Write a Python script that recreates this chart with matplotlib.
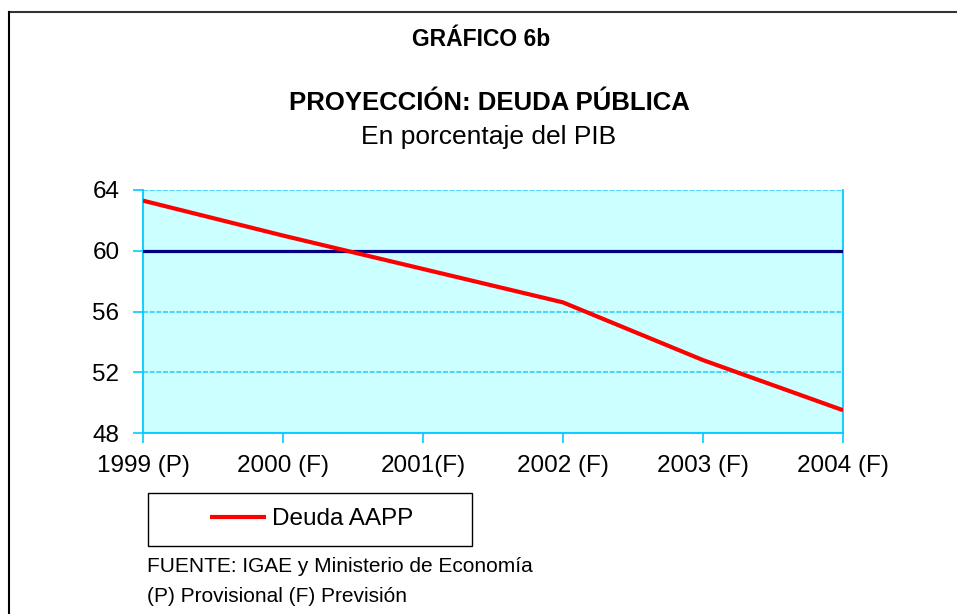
import matplotlib.pyplot as plt
from matplotlib.lines import Line2D
from matplotlib.patches import Rectangle

plt.rcParams['font.family'] = ['Liberation Sans', 'DejaVu Sans']

# data
years = ["1999 (P)", "2000 (F)", "2001(F)", "2002 (F)", "2003 (F)", "2004 (F)"]
deuda = [63.3, 61.0, 58.8, 56.6, 52.8, 49.5]
limite = [60, 60, 60, 60, 60, 60]
yticks = [48, 52, 56, 60, 64]

fig = plt.figure(figsize=(9.57, 6.14), dpi=100)
ax = fig.add_axes([143/957, 1 - 433/614, 700/957, 243/614])

x = range(len(years))
ax.set_facecolor("#CCFFFF")
ax.plot(x, limite, color="#000080", lw=2.3, zorder=3)
ax.plot(x, deuda, color="#FF0000", lw=3, label="Deuda AAPP", zorder=4,
        solid_capstyle="butt")

ax.set_xlim(0, len(years) - 1)
ax.set_ylim(48, 64)
ax.set_xticks(list(x))
ax.set_xticklabels(years, fontsize=17.5)
ax.set_yticks(yticks)
ax.set_yticklabels([str(v) for v in yticks], fontsize=17.5)
ax.grid(axis="y", color="#33CCFF", ls=(0, (3, 1)), lw=1.2)
ax.tick_params(axis="both", color="#00CCFF", length=7, width=1.2)
ax.tick_params(axis="x", pad=9)
ax.tick_params(axis="y", pad=10)
for side in ["left", "bottom", "right"]:
    ax.spines[side].set_color("#00CCFF")
    ax.spines[side].set_linewidth(1.3)
ax.spines["top"].set_visible(False)

# titles
fig.text(481/957, 1 - 40/614, "GRÁFICO 6b", ha="center", va="center",
         fontsize=16.5, fontweight="bold")
fig.text(489/957, 1 - 103/614, "PROYECCIÓN: DEUDA PÚBLICA", ha="center",
         va="center", fontsize=18.5, fontweight="bold")
fig.text(489/957, 1 - 137/614, "En porcentaje del PIB", ha="center",
         va="center", fontsize=19)

# legend box
fig.patches.append(Rectangle((148/957, 1 - 546/614), 324/957, 53/614,
                             transform=fig.transFigure, fill=False,
                             edgecolor="black", lw=1))
fig.legend(loc="center", bbox_to_anchor=(312/957, 1 - 519/614), frameon=False,
           fontsize=17.5, handlelength=2.3, handletextpad=0.25)

fig.text(147/957, 1 - 566/614, "FUENTE: IGAE y Ministerio de Economía",
         ha="left", va="center", fontsize=15)
fig.text(147/957, 1 - 596/614, "(P) Provisional (F) Previsión",
         ha="left", va="center", fontsize=15)

# outer frame (top and left)
fig.lines.append(Line2D([9/957, 1], [1 - 12/614, 1 - 12/614],
                        transform=fig.transFigure, color="#333333", lw=1.5))
fig.lines.append(Line2D([9/957, 9/957], [0, 1 - 12/614],
                        transform=fig.transFigure, color="black", lw=1.5))

fig.savefig("out.png", dpi=100)
